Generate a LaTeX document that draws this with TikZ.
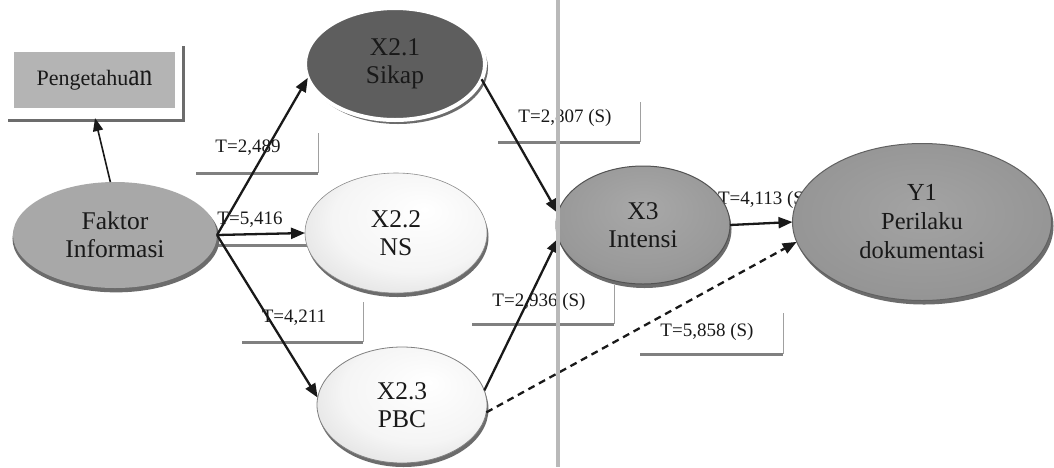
\documentclass[tikz,border=0pt]{standalone}
\usepackage{fontspec}
\setmainfont{Liberation Serif}
\usepackage{graphicx}
\usetikzlibrary{arrows.meta,shapes.geometric,shadows}

\definecolor{boxgray}{HTML}{B4B4B4}
\definecolor{rimgray}{HTML}{6C6C6C}
\definecolor{faktorfill}{HTML}{A8A8A8}
\definecolor{sikapfill}{HTML}{5E5E5E}
\definecolor{framebot}{HTML}{808080}
\definecolor{frameside}{HTML}{A0A0A0}
\definecolor{splitline}{HTML}{B9B9B9}

% soft elliptical glows for the construct ovals
\pgfdeclareradialshading{paleglow}{\pgfpoint{8bp}{10bp}}{%
  color(0bp)=(white); color(22bp)=(black!4); color(38bp)=(black!15); color(50bp)=(black!28)}
\pgfdeclareradialshading{midglow}{\pgfpoint{0bp}{8bp}}{%
  color(0bp)=(black!34); color(25bp)=(black!40); color(42bp)=(black!50); color(50bp)=(black!62)}
\pgfdeclareradialshading{bigglow}{\pgfpoint{0bp}{4bp}}{%
  color(0bp)=(black!36); color(28bp)=(black!42); color(44bp)=(black!50); color(50bp)=(black!60)}

\begin{document}
\begin{tikzpicture}[x=1pt,y=-1pt,
  every node/.style={inner sep=0pt, outer sep=0pt},
  construct/.style={ellipse, align=center, text=black!90,
    font=\fontsize{25.5}{28}\selectfont},
  tval/.style={font=\fontsize{19}{20}\selectfont, text=black!90},
  tframe/.style={minimum width=#1, minimum height=40},
  framebottom/.style={draw=framebot, line width=3pt},
  frameside/.style={draw=frameside, line width=1pt},
  path arrow/.style={-{Triangle[length=14pt,width=11pt]}, line width=2.3pt, black!90},
  rimshadow/.style={drop shadow={shadow xshift=#1, shadow yshift=-4pt,
    fill=rimgray, opacity=1}},
]
\useasboundingbox (0,0) rectangle (1054,467);
\fill[white] (0,0) rectangle (1054,467);

% ---- value labels with their L-shaped frames (behind everything) ----
\node[tframe=122] (f1) at (257,153) {};
\node[tframe=118] (f2) at (271,225) {};
\node[tframe=121] (f3) at (302.5,322) {};
\node[tframe=142] (f4) at (569,122) {};
\node[tframe=142, minimum height=39] (f5) at (543,304.5) {};
\node[tframe=143, minimum height=41] (f7) at (711.5,333.5) {};
\foreach \f in {f1,f2,f3,f4,f5,f7}{
  \draw[frameside] (\f.north east) -- (\f.south east);
  \draw[framebottom] (\f.south west) -- (\f.south east);
}
\node[tval] (t1) at (248,148) {T=2,489};
\node[tval] (t2) at (250,220) {T=5,416};
\node[tval] (t3) at (294,318) {T=4,211};
\node[tval] (t4) at (565,118) {T=2,807 (S)};
\node[tval] (t5) at (539,302) {T=2,936 (S)};
\node[tval, anchor=west] (t6) at (718,200) {T=4,113 (S)};
\node[tval] (t7) at (707,332) {T=5,858 (S)};

% ---- Pengetahuan box with its offset frame ----
\node[minimum width=175, minimum height=74] (penf) at (95.5,83) {};
\draw[draw=rimgray, line width=3pt] (penf.north east) -- (penf.south east) -- (penf.south west);
\node[fill=boxgray, minimum width=161, minimum height=56, text=black!90,
  font=\fontsize{22}{24}\selectfont] (pen) at (94.5,80)
  {Pengetahu{\fontsize{31}{31}\selectfont\scalebox{0.82}[1]{an}}};

% ---- constructs ----
\node[construct, fill=faktorfill, minimum width=204, minimum height=106,
  drop shadow={shadow xshift=1pt, shadow yshift=-3.5pt, shadow scale=1.015,
  fill=rimgray, opacity=1}] (fak) at (115,235) {Faktor\\Informasi};

\node[construct, fill=sikapfill, draw=white, line width=4pt,
  minimum width=180, minimum height=112, rimshadow=3pt] (sik) at (395,64)
  {X2.1\\Sikap};

\node[construct, shade, shading=paleglow, draw=black!45,
  line width=0.6pt, minimum width=182, minimum height=120, rimshadow=1.5pt]
  (ns) at (396,233) {X2.2\\NS};

\node[construct, shade, shading=paleglow, draw=black!50,
  line width=0.8pt, minimum width=170, minimum height=116, rimshadow=1.5pt]
  (pbc) at (402,405) {X2.3\\PBC};

\node[construct, shade, shading=midglow, draw=black!68,
  line width=1pt, minimum width=174, minimum height=118, rimshadow=1.5pt]
  (x3) at (643,225) {X3\\Intensi};

\node[construct, shade, shading=bigglow, draw=black!62,
  line width=1pt, minimum width=259, minimum height=157, rimshadow=2pt,
  font=\fontsize{24.5}{29}\selectfont]
  (y1) at (922,222) {Y1\\Perilaku\\dokumentasi};

% ---- paths ----
\draw[-{Triangle[length=13pt,width=10pt]}, line width=1.6pt, black!90,
  shorten >=-2pt] (fak.95) -- (penf.south);
\draw[path arrow] (fak.east) -- (sik.189);
\draw[path arrow] (fak.east) -- (ns.west);
\draw[path arrow] (fak.east) -- (pbc.175);
\draw[path arrow] (sik.350) -- (x3.172);
\draw[path arrow] (pbc.10) -- (x3.189);
\draw[path arrow] (x3.east) -- (y1.west);
\draw[path arrow, dash pattern=on 7pt off 5pt] (pbc.355) -- (y1.189);

% ---- vertical page rule ----
\coordinate (ruletop) at (558,0);
\coordinate (rulebot) at (558,467);
\draw[splitline, line width=3.2pt] (ruletop) -- (rulebot);
\end{tikzpicture}
\end{document}
